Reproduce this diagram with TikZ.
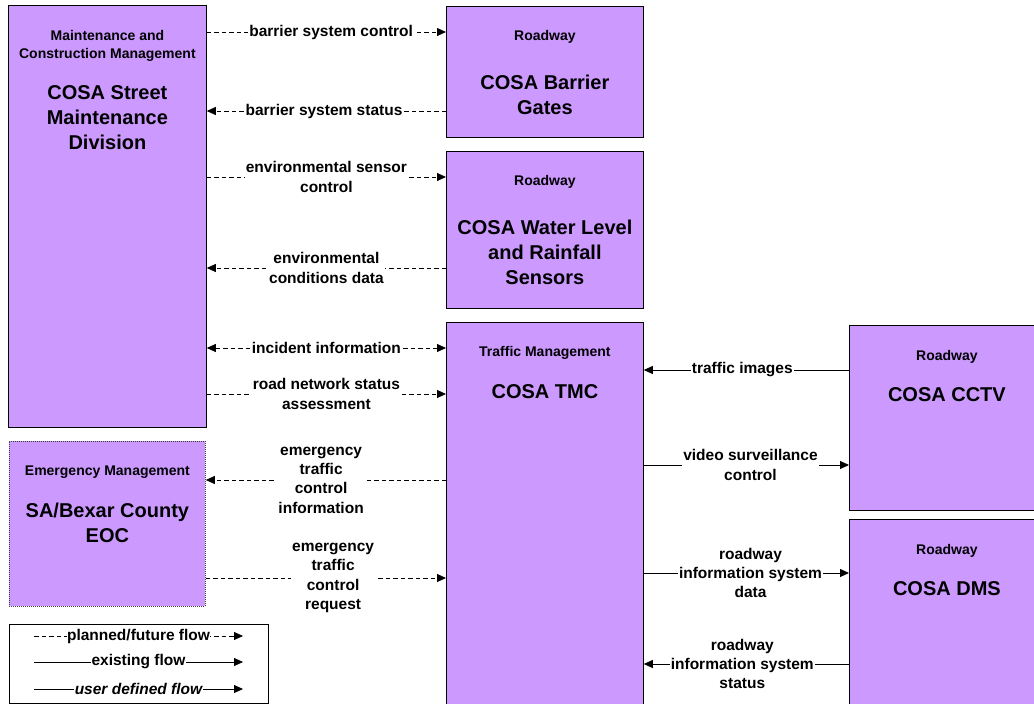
\documentclass[tikz,border=0pt]{standalone}
\usepackage{fontspec}
\setmainfont{Liberation Sans}
\usetikzlibrary{positioning}
\usetikzlibrary{calc}
\usetikzlibrary{arrows.meta}
\definecolor{lav}{RGB}{204,153,255}

\tikzset{
  elem/.style={draw, fill=lav, line width=0.8pt, anchor=north west, inner sep=0pt},
  cat/.style={font=\fontsize{14}{18}\selectfont\bfseries, align=center},
  title/.style={font=\fontsize{20}{25}\selectfont\bfseries, align=center},
  flowlbl/.style={fill=white, inner sep=1pt, font=\fontsize{15.5}{19.3}\selectfont\bfseries, align=center},
  tip/.style={-{Triangle[length=9pt,width=8pt]}},
  planned/.style={line width=0.8pt, dash pattern=on 4.5pt off 3pt},
  existing/.style={line width=0.8pt},
}

\begin{document}
\begin{tikzpicture}[x=1pt, y=-1pt]
    \useasboundingbox (0,0) rectangle (1034,704);

    % elements
    \node[elem, minimum width=198pt, minimum height=422pt] (maint) at (8,5) {};
    \node[elem, minimum width=197pt, minimum height=131pt] (barrier) at (446,6) {};
    \node[elem, minimum width=197pt, minimum height=157pt] (water) at (446,151) {};
    \node[elem, minimum width=197pt, minimum height=390pt] (tmc) at (446,322) {};
    \node[elem, minimum width=187pt, minimum height=185pt] (cctv) at (849,325) {};
    \node[elem, minimum width=187pt, minimum height=190pt] (dms) at (849,519) {};
    \node[elem, draw=black!75, dash pattern=on 1pt off 1pt, minimum width=196pt, minimum height=165pt] (eoc) at (9,441) {};

    % element texts
    \node[cat] (maintcat) at ($(maint.north)+(0,41)$) {Maintenance and\\Construction Management};
    \node[title] (mainttitle) at ($(maint.north)+(0,113)$) {COSA Street\\Maintenance\\Division};
    \node[cat] (barriercat) at ($(barrier.north)+(0,31)$) {Roadway};
    \node[title] (barriertitle) at ($(barrier.north)+(0,89)$) {COSA Barrier\\Gates};
    \node[cat] (watercat) at ($(water.north)+(0,31)$) {Roadway};
    \node[title] (watertitle) at ($(water.north)+(0,101)$) {COSA Water Level\\and Rainfall\\Sensors};
    \node[cat] (tmccat) at ($(tmc.north)+(0,31)$) {Traffic Management};
    \node[title] (tmctitle) at ($(tmc.north)+(0,70)$) {COSA TMC};
    \node[cat] (cctvcat) at ($(cctv.north)+(4,32)$) {Roadway};
    \node[title] (cctvtitle) at ($(cctv.north)+(4,70)$) {COSA CCTV};
    \node[cat] (dmscat) at ($(dms.north)+(4,32)$) {Roadway};
    \node[title] (dmstitle) at ($(dms.north)+(4,70)$) {COSA DMS};
    \node[cat] (eoccat) at ($(eoc.north)+(0,31)$) {Emergency Management};
    \node[title] (eoctitle) at ($(eoc.north)+(0,82)$) {SA/Bexar County\\EOC};

    % flows
    \draw[planned, tip] (maint.east |- 0,32) -- node[flowlbl, pos=0.52] {barrier system control} (barrier.west |- 0,32);
    \draw[planned, tip] (barrier.west |- 0,111) -- node[flowlbl, pos=0.51] {barrier system status} (maint.east |- 0,111);
    \draw[planned, tip] (maint.east |- 0,177) -- node[flowlbl] {environmental sensor\\control} (water.west |- 0,177);
    \draw[planned, tip] (water.west |- 0,268) -- node[flowlbl] {environmental\\conditions data} (maint.east |- 0,268);
    \draw[planned, {Triangle[length=9pt,width=8pt]}-{Triangle[length=9pt,width=8pt]}] (maint.east |- 0,348) -- node[flowlbl] {incident information} (tmc.west |- 0,348);
    \draw[planned, tip] (maint.east |- 0,394) -- node[flowlbl] {road network status\\assessment} (tmc.west |- 0,394);
    \draw[planned, tip] (tmc.west |- 0,480) -- node[flowlbl, pos=0.52] {emergency\\traffic\\control\\information} (eoc.east |- 0,480);
    \draw[planned, tip] (eoc.east |- 0,578) -- node[flowlbl, pos=0.53] {emergency\\traffic\\control\\request} (tmc.west |- 0,578);
    \draw[existing, tip] (cctv.west |- 0,370) -- node[flowlbl, pos=0.52] {traffic images} (tmc.east |- 0,370);
    \draw[existing, tip] (tmc.east |- 0,465) -- node[flowlbl, pos=0.52] {video surveillance\\control} (cctv.west |- 0,465);
    \draw[existing, tip] (tmc.east |- 0,573) -- node[flowlbl, pos=0.52] {roadway\\information system\\data} (dms.west |- 0,573);
    \draw[existing, tip] (dms.west |- 0,664) -- node[flowlbl, pos=0.52] {roadway\\information system\\status} (tmc.east |- 0,664);

    % legend
    \node[draw, line width=0.8pt, anchor=north west, minimum width=259pt, minimum height=79pt, inner sep=0pt] (legend) at (9,624) {};
    \coordinate (leg1a) at ($(legend.north west)+(25,12)$);
    \coordinate (leg1b) at ($(legend.north west)+(234,12)$);
    \coordinate (leg2a) at ($(legend.north west)+(25,38)$);
    \coordinate (leg2b) at ($(legend.north west)+(234,38)$);
    \coordinate (leg3a) at ($(legend.north west)+(25,65)$);
    \coordinate (leg3b) at ($(legend.north west)+(234,65)$);
    \draw[planned, tip] (leg1a) -- node[flowlbl, inner sep=0.5pt] {planned/future flow} (leg1b);
    \draw[existing, tip] (leg2a) -- node[flowlbl, inner sep=0.5pt] {existing flow} (leg2b);
    \draw[existing, tip] (leg3a) -- node[flowlbl, inner sep=0.5pt, font=\fontsize{15.5}{19.3}\selectfont\bfseries\itshape] {user defined flow} (leg3b);
\end{tikzpicture}
\end{document}
